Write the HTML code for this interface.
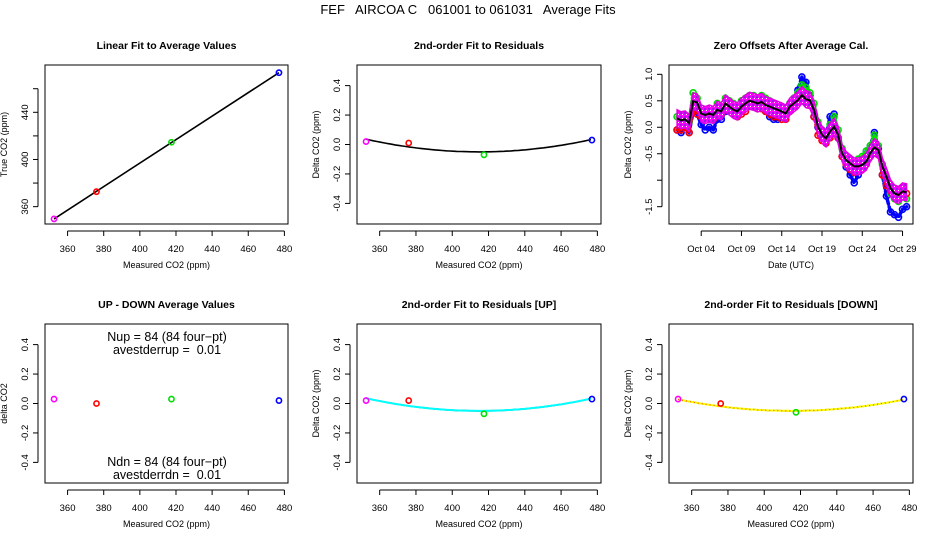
<!DOCTYPE html>
<html><head><meta charset="utf-8"><style>
html,body{margin:0;padding:0;background:#fff;}
svg{display:block;font-family:"Liberation Sans",sans-serif;}
text{white-space:pre;}
</style></head><body>
<svg id="chart" width="936" height="540" viewBox="0 0 936 540" xmlns="http://www.w3.org/2000/svg">
<defs>
<pattern id="mag" width="4" height="4" patternUnits="userSpaceOnUse">
<rect width="4" height="4" fill="#ff00ff"/><rect x="0" y="0" width="2" height="2" fill="#9020e0"/><rect x="2" y="2" width="1" height="1" fill="#ffffff"/>
</pattern>
</defs>
<text x="468" y="14" font-size="13" text-anchor="middle" xml:space="preserve">FEF   AIRCOA C   061001 to 061031   Average Fits</text>
</svg>
<script>
// ---- data ----
const calX = [352.5, 376, 417.5, 477];
const calColors = ['#ff00ff','#ff0000','#00dd00','#0000ff'];
const trueY = [349.6, 372.7, 414.6, 473.6];
const resid = [0.02, 0.01, -0.07, 0.03];
const residUp = [0.02, 0.02, -0.07, 0.03];
const residDn = [0.03, 0.0, -0.06, 0.03];
const upDown = [0.03, 0.0, 0.03, 0.02];
const quadFit = [2.2e-5, 415, -0.05];   // a, vertex x, vertex y
const quadFitUp = [2.2e-5, 415, -0.05];
const quadFitDn = [2.0e-5, 415, -0.05];
const dayTimes = [1,1.5,2,2.5,3,3.5,4,4.5,5,5.5,6,6.5,7,7.5,8,8.5,9,9.5,10,10.5,11,11.5,12,12.5,13,13.5,14,14.5,15,15.5,16,16.5,17,17.5,18,18.5,19,19.5,20,20.5,21,21.5,22,22.5,23,23.5,24,24.5,25,25.5,26,26.5,27,27.5,28,28.5,29,29.5];
const meanOff = [.17,.13,.15,.08,.49,.47,.26,.23,.26,.23,.33,.30,.45,.39,.33,.30,.39,.45,.50,.48,.45,.48,.42,.39,.36,.33,.30,.26,.39,.45,.51,.61,.53,.51,.33,.01,-.14,-.21,-.08,.01,-.14,-.49,-.62,-.68,-.74,-.74,-.71,-.65,-.49,-.38,-.43,-.74,-.93,-1.15,-1.25,-1.28,-1.21,-1.23];
const blueOff = [-0.05,-0.1,0.0,-0.1,0.3,0.25,0.05,-0.05,0.0,-0.05,0.15,0.15,0.3,0.3,0.25,0.2,0.3,0.4,0.5,0.55,0.5,0.45,0.3,0.2,0.15,0.15,0.2,0.2,0.4,0.5,0.7,0.95,0.85,0.6,0.2,0.0,-0.1,-0.15,0.2,0.25,-0.2,-0.55,-0.75,-0.9,-1.05,-0.9,-0.65,-0.45,-0.35,-0.1,-0.4,-0.9,-1.3,-1.6,-1.65,-1.7,-1.55,-1.5];
const greenOff = [0.2,0.15,0.2,0.1,0.65,0.55,0.35,0.3,0.35,0.3,0.45,0.4,0.55,0.5,0.45,0.4,0.5,0.55,0.6,0.6,0.55,0.6,0.55,0.5,0.45,0.4,0.35,0.35,0.45,0.55,0.65,0.8,0.75,0.65,0.45,0.1,-0.05,-0.1,0.05,0.2,-0.05,-0.4,-0.55,-0.6,-0.65,-0.6,-0.55,-0.45,-0.35,-0.15,-0.35,-0.7,-1.0,-1.25,-1.35,-1.4,-1.3,-1.35];
const redOff = [-0.05,-0.05,0.0,-0.1,0.35,0.25,0.2,0.15,0.2,0.15,0.25,0.25,0.35,0.3,0.25,0.2,0.25,0.3,0.4,0.4,0.35,0.35,0.3,0.25,0.2,0.2,0.15,0.15,0.3,0.4,0.5,0.6,0.55,0.45,0.2,-0.15,-0.25,-0.3,-0.2,-0.1,-0.2,-0.55,-0.7,-0.8,-0.85,-0.8,-0.75,-0.7,-0.55,-0.45,-0.5,-0.9,-1.1,-1.2,-1.3,-1.3,-1.25,-1.25];
const bandHalf = 0.16;
const xTicks = [360,380,400,420,440,460,480];
const residTicks = [-0.4,-0.2,0.0,0.2,0.4];
const trueTicks = [360,380,400,420,440,460];
const trueTickLabels = ['360','','400','','440',''];
const offTicks = [-1.5,-1.0,-0.5,0.0,0.5,1.0];
const offTickLabels = ['-1.5','','-0.5','0.0','0.5','1.0'];
const dateTicks = [4,9,14,19,24,29];
const dateLabels = ['Oct 04','Oct 09','Oct 14','Oct 19','Oct 24','Oct 29'];

const NS='http://www.w3.org/2000/svg';
const svg=document.getElementById('chart');
function el(tag,attrs,parent){const e=document.createElementNS(NS,tag);for(const k in attrs)e.setAttribute(k,attrs[k]);(parent||svg).appendChild(e);return e;}
function txt(s,attrs,parent){const t=el('text',attrs,parent);t.textContent=s;return t;}

function panel(o){
  const g=el('g',{});
  
  
  const L=o.box[0],T=o.box[1],R=o.box[2],B=o.box[3];
  const sx=v=>L+(v-o.xd[0])/(o.xd[1]-o.xd[0])*(R-L);
  const sy=v=>B-(v-o.yd[0])/(o.yd[1]-o.yd[0])*(B-T);
  const bx=el('rect',{x:L,y:T,width:R-L,height:B-T,fill:'none',stroke:'#000','stroke-width':1},g);
  
  
  const tt=txt(o.title,{x:(L+R)/2,y:T-16,'font-size':10.5,'font-weight':'bold','text-anchor':'middle'},g);
  
  
  const xa=el('g',{},g);
  
  
  const xt=o.xTicks;
  el('line',{x1:sx(xt[0]),x2:sx(xt[xt.length-1]),y1:B+7,y2:B+7,stroke:'#000'},xa);
  xt.forEach((v,i)=>{el('line',{x1:sx(v),x2:sx(v),y1:B+7,y2:B+12,stroke:'#000'},xa);
    const lb=o.xLabels?o.xLabels[i]:String(v);
    const t=txt(lb,{x:sx(v),y:B+28,'font-size':9.5,'text-anchor':'middle'},xa);
    
    });
  const xl=txt(o.xlab,{x:(L+R)/2,y:B+44,'font-size':9,'text-anchor':'middle'},g);
  
  
  const ya=el('g',{},g);
  
  
  const yt=o.yTicks;
  el('line',{x1:L-7,x2:L-7,y1:sy(yt[0]),y2:sy(yt[yt.length-1]),stroke:'#000'},ya);
  yt.forEach((v,i)=>{el('line',{x1:L-7,x2:L-12,y1:sy(v),y2:sy(v),stroke:'#000'},ya);
    const lb=o.yLabels?o.yLabels[i]:v.toFixed(1);
    if(lb){const t=txt(lb,{x:L-17,y:sy(v),'font-size':9.5,'text-anchor':'middle',transform:`rotate(-90 ${L-17} ${sy(v)})`},ya);
    
    }});
  const yx=L-38,yy=(T+B)/2;
  const yl=txt(o.ylab,{x:yx,y:yy,'font-size':9,'text-anchor':'middle',transform:`rotate(-90 ${yx} ${yy})`},g);
  
  
  return {g,sx,sy};
}
function quadCurve(p,q,color,width,dash){
  let d='';for(let x=352.5;x<=477.01;x+=2){d+=(d?'L':'M')+p.sx(x).toFixed(1)+','+p.sy(q[0]*(x-q[1])*(x-q[1])+q[2]).toFixed(1);}
  const pa=el('path',{d,fill:'none',stroke:color,'stroke-width':width},p.g);
  if(dash)pa.setAttribute('stroke-dasharray',dash);
  
  
}
function points(p,ys){
  calX.forEach((x,i)=>{const c=el('circle',{cx:p.sx(x),cy:p.sy(ys[i]),r:2.6,fill:'none',stroke:calColors[i],'stroke-width':1.6},p.g);
    
    });
}
const xd=[347.5,482], rd=[-0.54,0.54];
const cols=[[45,288],[357,601],[669,913]];
const rowT=[65,224], rowB=[324,483];

const p1=panel({name:'linear-fit-panel',title:'Linear Fit to Average Values',box:[cols[0][0],rowT[0],cols[0][1],rowT[1]],xd,yd:[345.3,480.1],xTicks,yTicks:trueTicks,yLabels:trueTickLabels,xlab:'Measured CO2 (ppm)',ylab:'True CO2 (ppm)'});
{const ln=el('line',{x1:p1.sx(calX[0]),y1:p1.sy(trueY[0]),x2:p1.sx(calX[3]),y2:p1.sy(trueY[3]),stroke:'#000','stroke-width':1.6},p1.g);

}
points(p1,trueY);

const p2=panel({name:'residual-fit-panel',title:'2nd-order Fit to Residuals',box:[cols[1][0],rowT[0],cols[1][1],rowT[1]],xd,yd:rd,xTicks,yTicks:residTicks,xlab:'Measured CO2 (ppm)',ylab:'Delta CO2 (ppm)'});
quadCurve(p2,quadFit,'#000',1.6);
points(p2,resid);

const p3=panel({name:'zero-offsets-panel',title:'Zero Offsets After Average Cal.',box:[cols[2][0],rowT[0],cols[2][1],rowT[1]],xd:[0,30.3],yd:[-1.827,1.176],xTicks:dateTicks,xLabels:dateLabels,yTicks:offTicks,yLabels:offTickLabels,xlab:'Date (UTC)',ylab:'Delta CO2 (ppm)'});
function series(arr,color,name,w){
  let d='';dayTimes.forEach((t,i)=>{d+=(i?'L':'M')+p3.sx(t).toFixed(1)+','+p3.sy(arr[i]).toFixed(1);});
  const pa=el('path',{d,fill:'none',stroke:color,'stroke-width':w,'stroke-linejoin':'round','stroke-linecap':'round','stroke-dasharray':'5 3'},p3.g);
  
  
  dayTimes.forEach((t,i)=>{const c=el('circle',{cx:p3.sx(t),cy:p3.sy(arr[i]),r:3,fill:'none',stroke:color,'stroke-width':1.6},p3.g);
    
    });
}
series(blueOff,'#0000ff','blue-series',3.5);
series(greenOff,'#00dd00','green-series',3.5);
series(redOff,'#ff0000','red-series',3);
{let up='',dn='';dayTimes.forEach((t,i)=>{up+=(i?'L':'M')+p3.sx(t).toFixed(1)+','+p3.sy(meanOff[i]+bandHalf).toFixed(1);});
for(let i=dayTimes.length-1;i>=0;i--){dn+='L'+p3.sx(dayTimes[i]).toFixed(1)+','+p3.sy(meanOff[i]-bandHalf).toFixed(1);}
const band=el('path',{d:up+dn+'Z',fill:'url(#mag)',stroke:'#e000e0','stroke-width':1.5},p3.g);

}
{let d='';dayTimes.forEach((t,i)=>{d+=(i?'L':'M')+p3.sx(t).toFixed(1)+','+p3.sy(meanOff[i]).toFixed(1);});
const m=el('path',{d,fill:'none',stroke:'#000','stroke-width':2},p3.g);

}

const p4=panel({name:'up-down-panel',title:'UP - DOWN Average Values',box:[cols[0][0],rowB[0],cols[0][1],rowB[1]],xd,yd:rd,xTicks,yTicks:residTicks,xlab:'Measured CO2 (ppm)',ylab:'delta CO2'});
points(p4,upDown);
[['Nup = 84 (84 four\u2212pt)',337],['avestderrup =  0.01',350],['Ndn = 84 (84 four\u2212pt)',462],['avestderrdn =  0.01',475]].forEach(a=>{
  const t=txt(a[0],{x:167,y:a[1]+4,'font-size':12.5,'text-anchor':'middle'},p4.g);
  
  });

const p5=panel({name:'residual-fit-up-panel',title:'2nd-order Fit to Residuals [UP]',box:[cols[1][0],rowB[0],cols[1][1],rowB[1]],xd,yd:rd,xTicks,yTicks:residTicks,xlab:'Measured CO2 (ppm)',ylab:'Delta CO2 (ppm)'});
quadCurve(p5,quadFitUp,'#000',1.6);
quadCurve(p5,quadFitUp,'#00ffff',2);
points(p5,residUp);

const p6=panel({name:'residual-fit-down-panel',title:'2nd-order Fit to Residuals [DOWN]',box:[cols[2][0],rowB[0],cols[2][1],rowB[1]],xd,yd:rd,xTicks,yTicks:residTicks,xlab:'Measured CO2 (ppm)',ylab:'Delta CO2 (ppm)'});
quadCurve(p6,quadFitDn,'#000',1.6);
quadCurve(p6,quadFitDn,'#ffff00',2);
quadCurve(p6,quadFitDn,'#ff4000',1,'1 3');
points(p6,residDn);
</script>
</body></html>
